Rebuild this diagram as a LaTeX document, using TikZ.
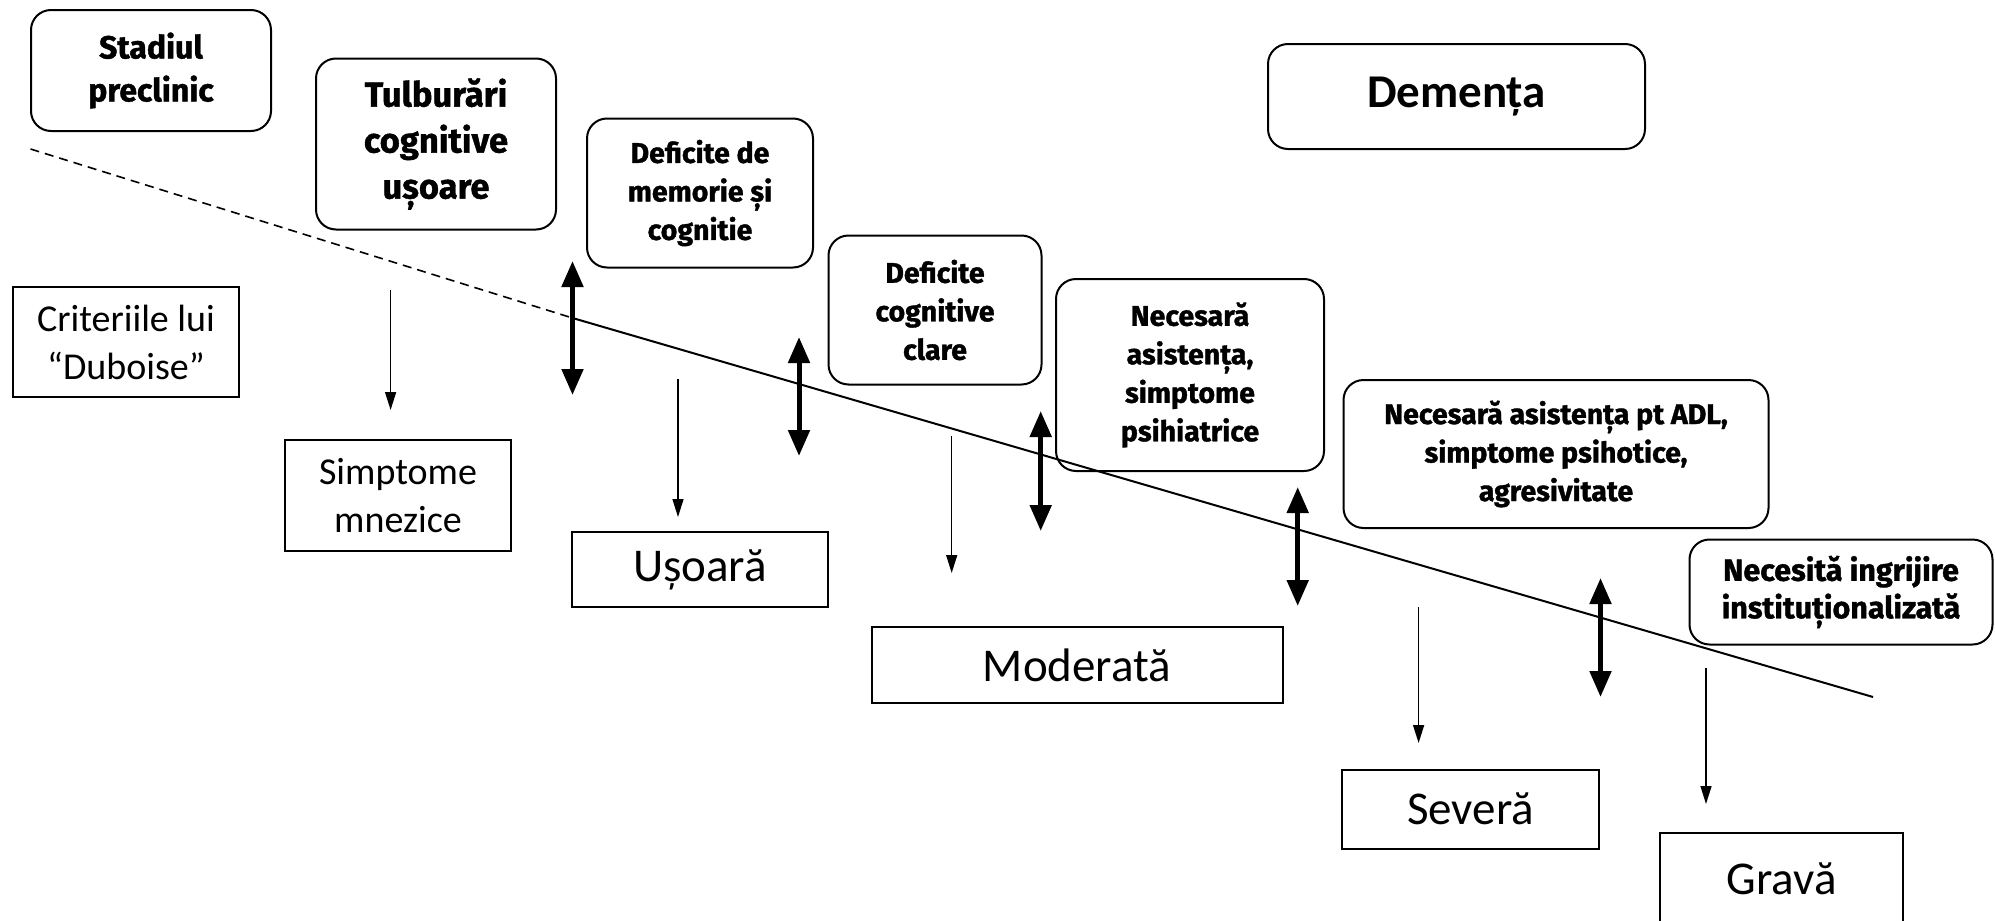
\documentclass[tikz,border=0pt]{standalone}
\usepackage{fontspec}
\setmainfont{Carlito}
\newfontfamily\condfont{Fira Sans}[BoldFeatures={FakeBold=1.2}]
\usetikzlibrary{arrows.meta}
\begin{document}
\begin{tikzpicture}[x=1pt,y=-1pt,
  rbox/.style={draw, line width=2pt, rounded corners=20pt, align=center, inner sep=0pt},
  sbox/.style={draw, line width=2pt, align=center, inner sep=0pt},
  boldA/.style={font=\condfont\bfseries\fontsize{32}{43}\selectfont},
  boldB/.style={font=\condfont\bfseries\fontsize{34.5}{46}\selectfont},
  boldC/.style={font=\condfont\bfseries\fontsize{28.5}{38.5}\selectfont},
  boldD/.style={font=\condfont\bfseries\fontsize{30.5}{37.5}\selectfont},
  smalltxt/.style={font=\fontsize{38}{48}\selectfont},
  largetxt/.style={font=\fontsize{47}{56}\selectfont},
  thinarrow/.style={line width=1.5pt, -{Triangle[length=18pt,width=11pt]}},
  thickarrow/.style={line width=5pt, {Triangle[length=26pt,width=21pt]}-{Triangle[length=26pt,width=21pt]}},
  trend/.style={line width=2pt},
  trenddash/.style={line width=1.6pt, dash pattern=on 9pt off 6pt},
]
\useasboundingbox (0,0) rectangle (1995,921);

% rounded boxes
\node[rbox, boldA, minimum width=240, minimum height=121] (preclin) at (151,70.5) {Stadiul\\preclinic};
\node[rbox, boldB, minimum width=240, minimum height=171] (mci) at (436,144) {Tulburări\\cognitive\\ușoare};
\node[rbox, boldC, minimum width=226, minimum height=149] (defmem) at (700,193) {Deficite de\\memorie și\\cognitie};
\node[rbox, boldC, minimum width=213, minimum height=149] (defcog) at (935,310) {Deficite\\cognitive\\clare};
\node[rbox, boldC, minimum width=268, minimum height=192] (asist) at (1190,375) {Necesară\\asistența,\\simptome\\psihiatrice};
\node[rbox, boldC, minimum width=425, minimum height=148] (adl) at (1556,454) {Necesară asistența pt ADL,\\simptome psihotice,\\agresivitate};
\node[rbox, boldD, minimum width=303, minimum height=105] (instit) at (1841,592) {Necesită ingrijire\\instituționalizată};
\node[rbox, font=\bfseries\fontsize{47}{56}\selectfont, minimum width=377, minimum height=105] (dem) at (1456.5,96.5) {Demența};

% square boxes
\node[sbox, smalltxt, minimum width=226, minimum height=110] (dub) at (126,342) {Criteriile lui\\“Duboise”};
\node[sbox, smalltxt, minimum width=226, minimum height=111] (mnez) at (398,495.5) {Simptome\\mnezice};
\node[sbox, largetxt, minimum width=256, minimum height=75] (usoara) at (700,569.5) {Ușoară};
\node[sbox, largetxt, minimum width=411, minimum height=76] (mod) at (1077,665) {Moderată};
\node[sbox, largetxt, minimum width=257, minimum height=79] (sev) at (1470.5,809) {Severă};
\node[sbox, largetxt, minimum width=243, minimum height=92] (grava) at (1781.5,879) {Gravă};

% trend line
\coordinate (L0) at (30.5,149);
\coordinate (L1) at (572.5,318);
\coordinate (L2) at (1873,697);
\draw[trenddash] (L0) -- (L1);
\draw[trend] (L1) -- (L2);

% thin arrows
\coordinate (a1s) at (390.6,290);   \coordinate (a1e) at (390.6,410);
\coordinate (a2s) at (678,379);     \coordinate (a2e) at (678,517);
\coordinate (a3s) at (951.7,436);   \coordinate (a3e) at (951.7,573);
\coordinate (a4s) at (1418.6,607);  \coordinate (a4e) at (1418.6,743);
\coordinate (a5s) at (1706,668);    \coordinate (a5e) at (1706,804);
\foreach \s/\e in {a1s/a1e,a2s/a2e,a3s/a3e,a4s/a4e,a5s/a5e}
  \draw[thinarrow] (\s) -- (\e);

% thick double arrows
\coordinate (b1s) at (572.5,261);  \coordinate (b1e) at (572.5,395);
\coordinate (b2s) at (799,337);    \coordinate (b2e) at (799,456);
\coordinate (b3s) at (1040.7,411); \coordinate (b3e) at (1040.7,531);
\coordinate (b4s) at (1297.7,487); \coordinate (b4e) at (1297.7,606);
\coordinate (b5s) at (1600.5,578); \coordinate (b5e) at (1600.5,697);
\foreach \s/\e in {b1s/b1e,b2s/b2e,b3s/b3e,b4s/b4e,b5s/b5e}
  \draw[thickarrow] (\s) -- (\e);
\end{tikzpicture}
\end{document}
